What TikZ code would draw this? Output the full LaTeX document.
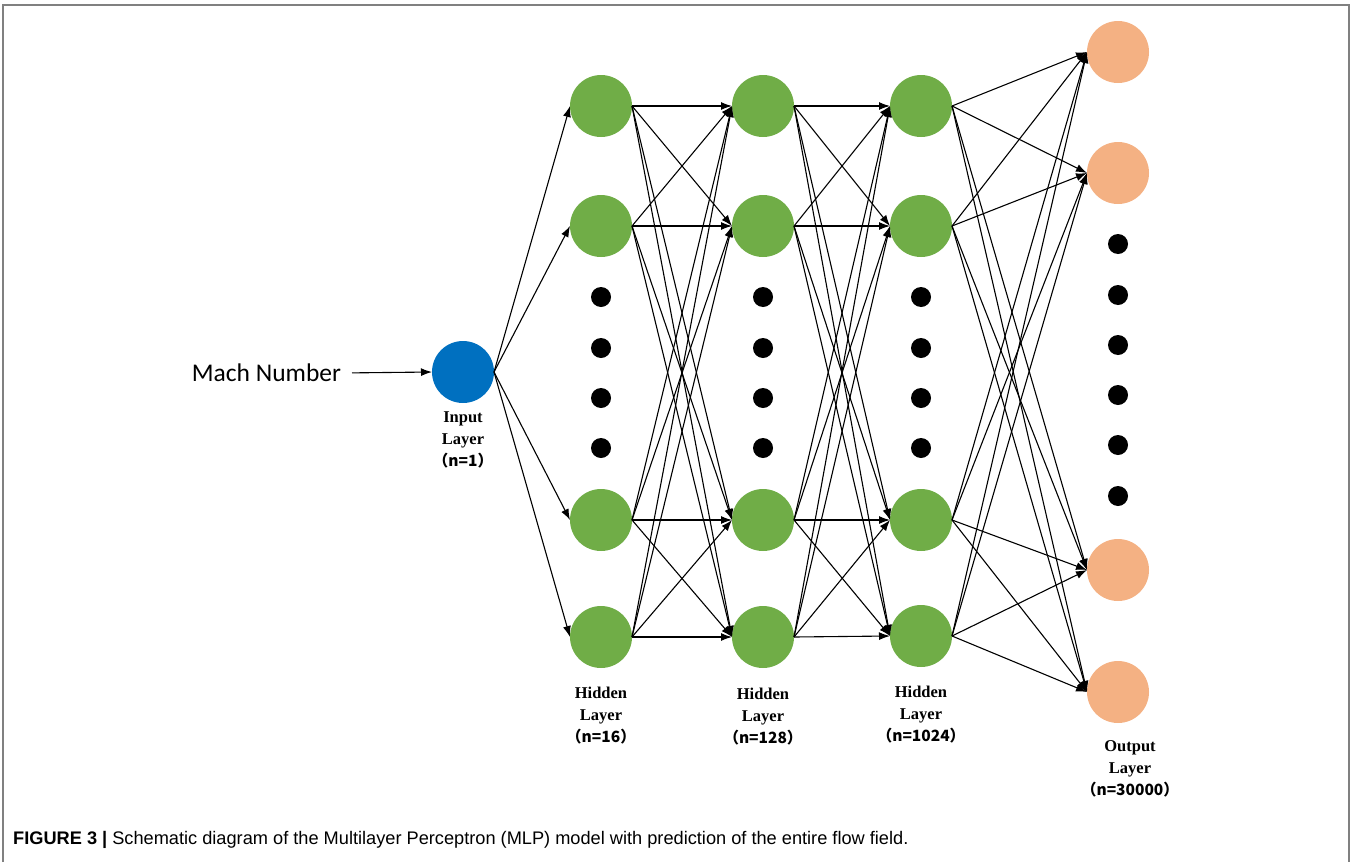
\documentclass[tikz,border=0pt]{standalone}
\usepackage{fontspec}
\usepackage{tikz}
\usetikzlibrary{arrows.meta}
\setmainfont{Liberation Serif}
\newfontfamily\cjk{Noto Sans CJK SC}
\newfontfamily\machfont{Carlito}
\newfontfamily\capfont{Liberation Sans}

\definecolor{inblue}{HTML}{0070C0}
\definecolor{hidgreen}{HTML}{70AD47}
\definecolor{outorange}{HTML}{F4B183}

\tikzset{
  neuron/.style={circle, minimum size=62pt, inner sep=0pt, outer sep=0pt},
  ellip/.style={circle, fill=black, minimum size=20pt, inner sep=0pt},
  conn/.style={line width=1.1pt, -{Latex[length=11pt,width=8pt]}},
  lbl/.style={align=center, font=\fontsize{16.5}{22}\selectfont\bfseries}
}
\newcommand{\nlabel}[1]{{\cjk\fontsize{15.5}{22}\selectfont #1}}

\begin{document}
\begin{tikzpicture}[x=1pt,y=-1pt]
       \useasboundingbox (0,0) rectangle (1351,862);
       \draw[gray, line width=2pt] (3,862) -- (3,4.5) -- (1349,4.5) -- (1349,862);

       % input
       \node(mach)[font=\machfont\fontsize{25.5}{30}\selectfont, anchor=east, inner sep=0pt, outer sep=0pt] at (341,373) {Mach Number};
       \node(in)[neuron, fill=inblue] at (463,372) {};
       \node(lin)[lbl] at (463,440) {Input\\Layer\\\nlabel{（n=1）}};
       \draw[conn, shorten <=11pt] (mach.east) -- (in.west);

       % hidden layer 1
       \node(a1)[neuron, fill=hidgreen] at (601,106) {};
       \node(a2)[neuron, fill=hidgreen] at (601,226) {};
       \node(a3)[neuron, fill=hidgreen] at (601,520) {};
       \node(a4)[neuron, fill=hidgreen] at (601,637) {};
       \node(la)[lbl] at (601,716) {Hidden\\Layer\\\nlabel{（n=16）}};

       % hidden layer 2
       \node(b1)[neuron, fill=hidgreen] at (763,106) {};
       \node(b2)[neuron, fill=hidgreen] at (763,226) {};
       \node(b3)[neuron, fill=hidgreen] at (763,520) {};
       \node(b4)[neuron, fill=hidgreen] at (763,637) {};
       \node(lb)[lbl] at (763,717) {Hidden\\Layer\\\nlabel{（n=128）}};

       % hidden layer 3
       \node(c1)[neuron, fill=hidgreen] at (921,106) {};
       \node(c2)[neuron, fill=hidgreen] at (921,226) {};
       \node(c3)[neuron, fill=hidgreen] at (921,520) {};
       \node(c4)[neuron, fill=hidgreen] at (921,636) {};
       \node(lc)[lbl] at (921,715) {Hidden\\Layer\\\nlabel{（n=1024）}};

       % output
       \node(d1)[neuron, fill=outorange] at (1118,52) {};
       \node(d2)[neuron, fill=outorange] at (1118,173) {};
       \node(d3)[neuron, fill=outorange] at (1118,570) {};
       \node(d4)[neuron, fill=outorange] at (1118,692) {};
       \node(ld)[lbl] at (1130,769) {Output\\Layer\\\nlabel{（n=30000）}};

       % dots
       \foreach \x/\c in {601/a, 763/b, 921/c}
         \foreach \y [count=\k] in {297,348,398,448}
           \node(\c dot\k)[ellip] at (\x,\y) {};
       \foreach \y [count=\k] in {244,295,345,395,445,496}
         \node(ddot\k)[ellip] at (1118,\y) {};

       % connections
       \foreach \j in {1,...,4}
         \draw[conn] (in.east) -- (a\j.west);
       \foreach \i in {1,...,4}
         \foreach \j in {1,...,4} {
           \draw[conn] (a\i.east) -- (b\j.west);
           \draw[conn] (b\i.east) -- (c\j.west);
           \draw[conn] (c\i.east) -- (d\j.west);
         }

       \node(cap)[anchor=west, inner sep=0pt, font=\capfont\fontsize{18.2}{22}\selectfont] at (13,840)
         {{\bfseries FIGURE 3 |} Schematic diagram of the Multilayer Perceptron (MLP) model with prediction of the entire flow field.};
\end{tikzpicture}
\end{document}
